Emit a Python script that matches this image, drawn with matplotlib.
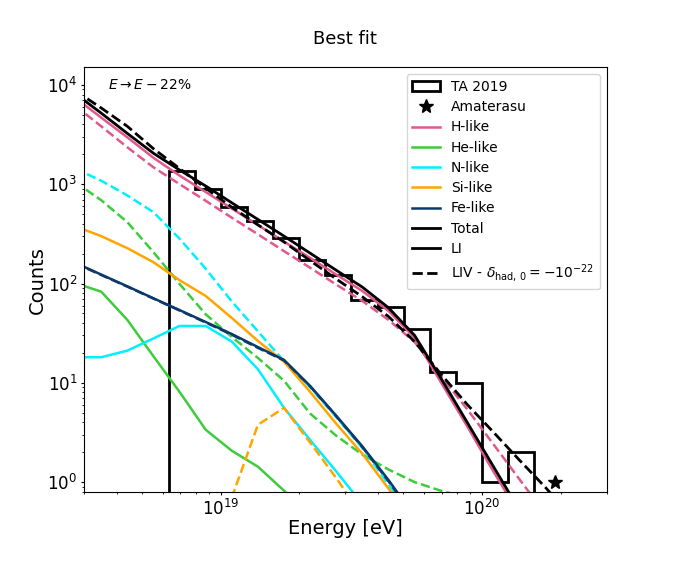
import matplotlib
matplotlib.use("Agg")
import matplotlib.pyplot as plt
from matplotlib.lines import Line2D
import numpy as np

# desplazamiento de energia E -> E - 22%
shift = 0.78

# energias del modelo, log10(E/eV) antes del desplazamiento
lg_model = [18.55, 18.65, 18.75, 18.85, 18.95, 19.05, 19.15, 19.25, 19.35, 19.45,
            19.55, 19.65, 19.75, 19.85, 19.95, 20.05, 20.15, 20.25, 20.35, 20.45]

# componentes, LI (solido) y LIV (discontinuo)
H_li = [7430, 4690, 2966, 1845, 1222, 835, 569, 388, 264, 181,
        123, 84, 53, 28.3, 10.2, 3.7, 1.3, 0.48, 0.15, 0.05]
H_liv = [6180, 3830, 2355, 1480, 1002, 681, 460, 313, 212, 144,
         97.5, 66.7, 43, 25.8, 11.7, 5.48, 2.44, 1.08, 0.48, 0.2]
He_li = [101, 82.8, 43, 18.5, 8.1, 3.37, 2.07, 1.43, 0.82, 0.45,
         0.2, 0.08, 0.03, 0.01, 0.005, 0.002, 0.001, 0.001, 0.001, 0.001]
He_liv = [1050, 690, 415, 207, 99, 49, 29, 17.8, 10.5, 4.9,
          2.93, 1.89, 1.34, 1.0, 0.82, 0.7, 0.6, 0.5, 0.4, 0.3]
N_li = [18.1, 18.1, 21.1, 28, 37.4, 37.4, 26, 13.7, 5.6, 2.66,
        1.28, 0.6, 0.25, 0.1, 0.04, 0.01, 0.005, 0.001, 0.001, 0.001]
N_liv = [1440, 1085, 771, 523, 283, 141, 66, 33, 16.5, 9,
         4.5, 2.2, 0.95, 0.4, 0.15, 0.05, 0.01, 0.005, 0.001, 0.001]
Si_li = [378, 300, 227, 164, 108, 75, 45, 26.4, 16.3, 8.1,
         3.87, 1.93, 0.86, 0.38, 0.15, 0.05, 0.01, 0.005, 0.001, 0.001]
Si_liv = [0.001, 0.001, 0.001, 0.001, 0.005, 0.02, 0.7, 3.78, 5.6, 2.5,
          1.1, 0.45, 0.18, 0.06, 0.02, 0.005, 0.001, 0.001, 0.001, 0.001]
Fe_li = [162, 123, 93.7, 71, 54, 41, 31, 22.9, 17, 9.3,
         4.66, 2.29, 1.05, 0.45, 0.18, 0.06, 0.02, 0.005, 0.001, 0.001]
Fe_liv = [160, 122, 93, 70.5, 53.5, 40.5, 30.5, 22.5, 16.8, 9.2,
          4.6, 2.25, 1.02, 0.44, 0.17, 0.06, 0.02, 0.005, 0.001, 0.001]
tot_li = [8200, 5200, 3250, 2050, 1390, 960, 650, 442, 300, 202,
          136, 92, 57, 30, 11.2, 4.05, 1.46, 0.53, 0.17, 0.06]
tot_liv = [8750, 5860, 3830, 2280, 1440, 912, 587, 390, 262, 170,
           111, 73.5, 46.5, 26, 12.3, 6.1, 3.22, 1.68, 0.89, 0.45]

# datos TA 2019 (bordes en log10 E)
lg_edges = [18.8, 18.9, 19.0, 19.1, 19.2, 19.3, 19.4, 19.5, 19.6, 19.7,
            19.8, 19.9, 20.0, 20.1, 20.2]
ta_counts = [1360, 885, 583, 425, 285, 172, 121, 69, 58, 35, 13, 10, 1, 2]

# Amaterasu
E_amaterasu = 2.44e20
n_amaterasu = 1

componentes = [
    ("H-like", H_li, H_liv, "#e0588e"),
    ("He-like", He_li, He_liv, "#3ccc3c"),
    ("N-like", N_li, N_liv, "#00f0ff"),
    ("Si-like", Si_li, Si_liv, "orange"),
    ("Fe-like", Fe_li, Fe_liv, "#0b3a6a"),
]

E = shift * 10 ** np.array(lg_model)
edges = 10 ** np.array(lg_edges)
centros = np.sqrt(edges[:-1] * edges[1:])

fig = plt.figure(figsize=(6.74, 5.62), dpi=100)
ax = fig.add_subplot(111)
fig.subplots_adjust(left=0.125, right=0.9, bottom=0.125, top=0.88)
ax.set_xscale("log")
ax.set_yscale("log")

_, _, hpatch = ax.hist(centros, bins=edges, weights=ta_counts, histtype="step",
                       color="black", linewidth=2, label="TA 2019")
star, = ax.plot([E_amaterasu * shift], [n_amaterasu], marker="*", color="black",
                linestyle="none", markersize=10, label="Amaterasu")

handles = [hpatch[0], star]
for nombre, li, liv, col in componentes:
    l, = ax.plot(E, li, color=col, linewidth=1.8, label=nombre)
    ax.plot(E, liv, color=col, linewidth=1.8, linestyle="--")
    handles.append(l)

lt, = ax.plot(E, tot_li, color="black", linewidth=2, label="Total")
ax.plot(E, tot_liv, color="black", linewidth=2, linestyle="--")
handles.append(lt)
handles.append(Line2D([], [], color="black", linewidth=2, label="LI"))
handles.append(Line2D([], [], color="black", linewidth=2, linestyle="--",
                      label=r"LIV - $\delta_{\rm had,\,0} = -10^{-22}$"))

ax.set_xlim(3e18, 3e20)
ax.set_ylim(0.8, 1.5e4)

ax.text(0.045, 0.95, r"$E \rightarrow E - 22\%$", transform=ax.transAxes,
        fontsize=10, va="baseline", ha="left")

ax.legend(handles=handles, loc="upper right", fontsize=10, labelspacing=0.45)
ax.set_title("Best fit", fontsize=13, pad=17)
ax.set_xlabel("Energy [eV]", fontsize=14, labelpad=0)
ax.set_ylabel("Counts", fontsize=14, labelpad=0)
ax.tick_params(axis="both", which="major", labelsize=12, length=2.5, pad=2.5)
ax.tick_params(axis="both", which="minor", length=1.5)

fig.savefig("out.png", dpi=100)
